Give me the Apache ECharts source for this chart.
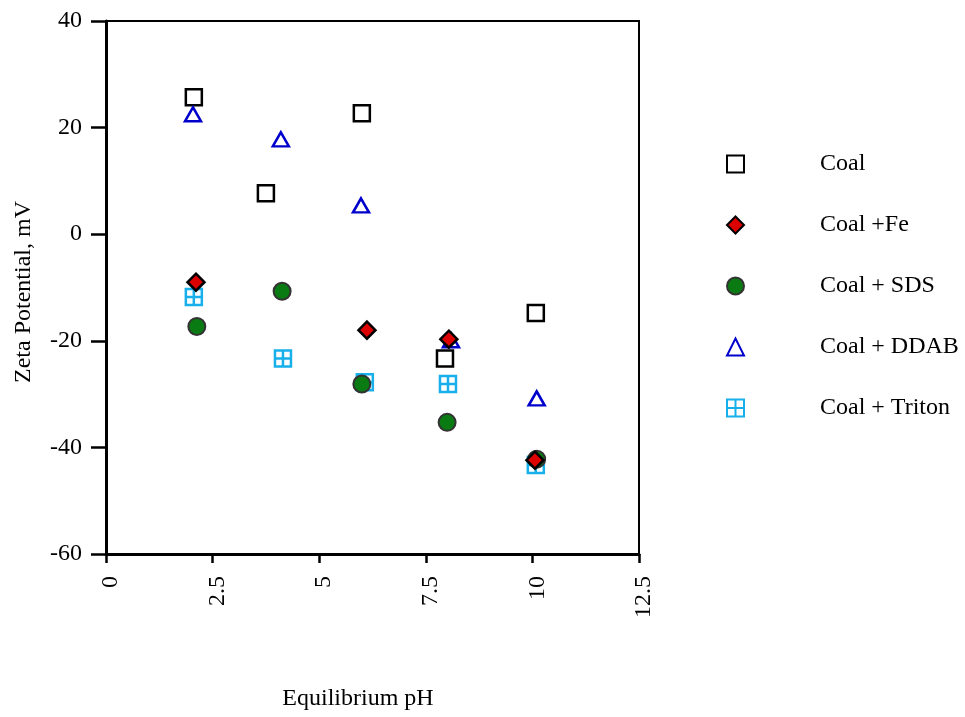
<!DOCTYPE html>
<html>
<head>
<meta charset="utf-8">
<script src="https://cdn.jsdelivr.net/npm/echarts@6/dist/echarts.min.js"></script>
<style>
  html, body { margin: 0; padding: 0; background: #fff; }
  #main { width: 965px; height: 717px; }
</style>
</head>
<body>
<div id="main"></div>
<script>
// 读图得到的数据 (pH, mV)
var names = ['Coal', 'Coal +Fe', 'Coal + SDS', 'Coal + DDAB', 'Coal + Triton']
var coal = [[2.06, 25.7], [3.75, 7.7], [6.0, 22.7], [7.95, -23.3], [10.08, -14.8]]
var coalFe = [[2.11, -9.0], [6.12, -18.0], [8.04, -19.7], [10.06, -42.4]]
var coalSDS = [[2.13, -17.3], [4.13, -10.7], [6.0, -28.1], [8.0, -35.3], [10.1, -42.2]]
var coalDDAB = [[2.04, 22.5], [4.1, 17.8], [5.98, 5.4], [8.09, -19.9], [10.1, -30.8]]
var coalTriton = [[2.06, -11.8], [4.15, -23.3], [6.07, -27.8], [8.02, -28.1], [10.08, -43.3]]
var xTicks = [0, 2.5, 5, 7.5, 10, 12.5]
var yTicks = [-60, -40, -20, 0, 20, 40]

var font = 'Liberation Serif'
var myChart = echarts.init(document.getElementById('main'))

myChart.setOption({
  animation: false,
  backgroundColor: '#fff',
  textStyle: { fontFamily: font },
  grid: {
    left: 106, top: 21, width: 533, height: 533,
    show: true, borderColor: '#000', borderWidth: 2
  },
  legend: {
    data: names,
    orient: 'vertical',
    left: 721,
    top: 147,
    itemWidth: 17,
    itemHeight: 17,
    itemGap: 37,
    textStyle: { fontFamily: font, fontSize: 24, color: '#000', padding: [0, 0, 0, 71] }
  },
  xAxis: {
    type: 'value',
    min: xTicks[0], max: xTicks[xTicks.length - 1], interval: 2.5,
    name: 'Equilibrium pH',
    nameLocation: 'middle',
    nameGap: 133,
    nameTextStyle: { fontFamily: font, fontSize: 24, color: '#000', padding: [0, 29, 0, 0] },
    splitLine: { show: false },
    axisLine: { onZero: false, lineStyle: { color: '#000', width: 3 } },
    axisTick: { length: 9, lineStyle: { color: '#000', width: 2.5 } },
    axisLabel: {
      rotate: 90, margin: 22, verticalAlign: 'top', lineHeight: 10,
      fontFamily: font, fontSize: 24, color: '#000'
    }
  },
  yAxis: {
    type: 'value',
    min: yTicks[0], max: yTicks[yTicks.length - 1], interval: 20,
    name: 'Zeta Potential, mV',
    nameLocation: 'middle',
    nameGap: 70,
    nameTextStyle: { fontFamily: font, fontSize: 24, color: '#000', padding: [0, 9, 0, 0] },
    splitLine: { show: false },
    axisLine: { onZero: false, lineStyle: { color: '#000', width: 3 } },
    axisTick: { length: 15, lineStyle: { color: '#000', width: 2.5 } },
    axisLabel: { margin: 24, fontFamily: font, fontSize: 24, color: '#000' }
  },
  series: [
    {
      name: 'Coal', type: 'scatter', data: coal,
      symbol: 'rect', symbolSize: 16,
      itemStyle: { color: 'rgba(255,255,255,0)', borderColor: '#000', borderWidth: 2.5, opacity: 1 }
    },
    {
      name: 'Coal + DDAB', type: 'scatter', data: coalDDAB,
      symbol: 'triangle', symbolSize: [16, 14],
      itemStyle: { color: 'rgba(255,255,255,0)', borderColor: '#0000cc', borderWidth: 2.5, opacity: 1 }
    },
    {
      name: 'Coal + Triton', type: 'scatter', data: coalTriton,
      symbol: 'path://M0,0L10,0L10,10L0,10Z M5,0L5,10 M0,5L10,5', symbolSize: 16,
      itemStyle: { color: 'rgba(255,255,255,0)', borderColor: '#18b0ea', borderWidth: 2.5, opacity: 1 }
    },
    {
      name: 'Coal + SDS', type: 'scatter', data: coalSDS,
      symbol: 'circle', symbolSize: 17,
      itemStyle: { color: '#0a7a12', borderColor: '#333', borderWidth: 2, opacity: 1 }
    },
    {
      name: 'Coal +Fe', type: 'scatter', data: coalFe,
      symbol: 'diamond', symbolSize: 17,
      itemStyle: { color: '#dd0000', borderColor: '#000', borderWidth: 2.5, opacity: 1 }
    }
  ]
})
</script>
</body>
</html>
